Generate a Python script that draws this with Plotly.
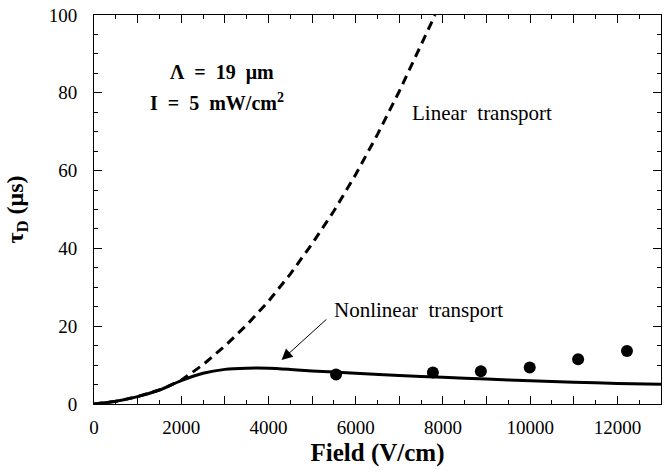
import plotly.graph_objects as go

# Nonlinear transport (solid curve)
nl_field = [0, 500, 1000, 1500, 2000, 2500, 3000, 3500, 4000, 4500, 5000, 5500,
            6000, 7000, 8000, 9000, 10000, 11000, 12000, 13000]
nl_tau = [0, 0.7, 1.9, 3.6, 6.0, 7.9, 8.9, 9.2, 9.2, 8.9, 8.5, 8.2,
          7.9, 7.3, 6.9, 6.4, 6.0, 5.6, 5.3, 5.1]

# Linear transport (dashed curve)
lin_field = [0, 500, 1000, 1500, 2000, 2500, 3000, 3500, 4000, 4500, 5000,
             5500, 6000, 6500, 7000, 7500, 7820]
lin_tau = [0, 0.7, 1.9, 3.6, 6.1, 10.1, 14.9, 20.3, 26.4, 33.4, 41.2,
           49.6, 59.0, 69.3, 80.4, 92.3, 100]

# Measured points
exp_field = [5550, 7770, 8870, 9990, 11100, 12220]
exp_tau = [7.6, 8.1, 8.4, 9.4, 11.5, 13.6]

x_tickvals = [0, 1000, 2000, 3000, 4000, 5000, 6000, 7000, 8000, 9000,
              10000, 11000, 12000, 13000]
x_ticktext = ["0", "", "2000", "", "4000", "", "6000", "", "8000", "",
              "10000", "", "12000", ""]
y_tickvals = [0, 20, 40, 60, 80, 100]

FONT = "Liberation Serif, Times New Roman, serif"

fig = go.Figure()
fig.add_trace(go.Scatter(x=lin_field, y=lin_tau, mode="lines",
                         line=dict(color="black", width=3, dash="9px,6px"),
                         showlegend=False))
fig.add_trace(go.Scatter(x=nl_field, y=nl_tau, mode="lines",
                         line=dict(color="black", width=3, shape="spline", smoothing=0.8),
                         showlegend=False))
fig.add_trace(go.Scatter(x=exp_field, y=exp_tau, mode="markers",
                         marker=dict(color="black", size=12),
                         showlegend=False))

fig.update_layout(
    width=667, height=475,
    margin=dict(l=94, r=6, t=15, b=71),
    plot_bgcolor="white", paper_bgcolor="white",
    font=dict(family=FONT, color="black", size=18),
    xaxis=dict(range=[0, 13000], showgrid=False, zeroline=False, automargin=False,
               showline=True, linecolor="black", linewidth=1, mirror="ticks",
               ticks="inside", ticklen=8, tickcolor="black",
               tickvals=x_tickvals, ticktext=x_ticktext,
               minor=dict(ticks="inside", dtick=500, ticklen=4, tickcolor="black"),
               tickfont=dict(size=19), ticklabelstandoff=6,
               ticklabeloverflow="allow",
               title=dict(text="<b>Field (V/cm)</b>", font=dict(size=25), standoff=6)),
    yaxis=dict(range=[0, 100], showgrid=False, zeroline=False, automargin=False,
               showline=True, linecolor="black", linewidth=1, mirror="ticks",
               ticks="inside", ticklen=8, tickcolor="black",
               tickvals=y_tickvals,
               minor=dict(ticks="inside", dtick=5, ticklen=4, tickcolor="black"),
               tickfont=dict(size=19), ticklabelstandoff=12,
               ticklabeloverflow="allow",
               title=dict(text="<b>τ<sub>D</sub> (μs)</b>", font=dict(size=24), standoff=18)),
    annotations=[
        dict(x=2924, y=85.3, xref="x", yref="y", showarrow=False,
             text="<b>Λ  =  19  μm</b>", font=dict(size=20)),
        dict(x=2821, y=77.6, xref="x", yref="y", showarrow=False,
             text="<b>I  =  5  mW/cm<sup>2</sup></b>", font=dict(size=20)),
        dict(x=8888, y=74.8, xref="x", yref="y", showarrow=False,
             text="Linear  transport", font=dict(size=21)),
        dict(x=7431, y=24.2, xref="x", yref="y", showarrow=False,
             text="Nonlinear  transport", font=dict(size=21)),
        dict(x=4300, y=11.3, ax=5362, ay=22.1, xref="x", yref="y",
             axref="x", ayref="y", text="", showarrow=True,
             arrowhead=2, arrowwidth=1, arrowsize=2.2, arrowcolor="black"),
    ],
)

fig.write_html("out.html", config={"displayModeBar": False},
               post_script="document.body.style.margin='0px';")
